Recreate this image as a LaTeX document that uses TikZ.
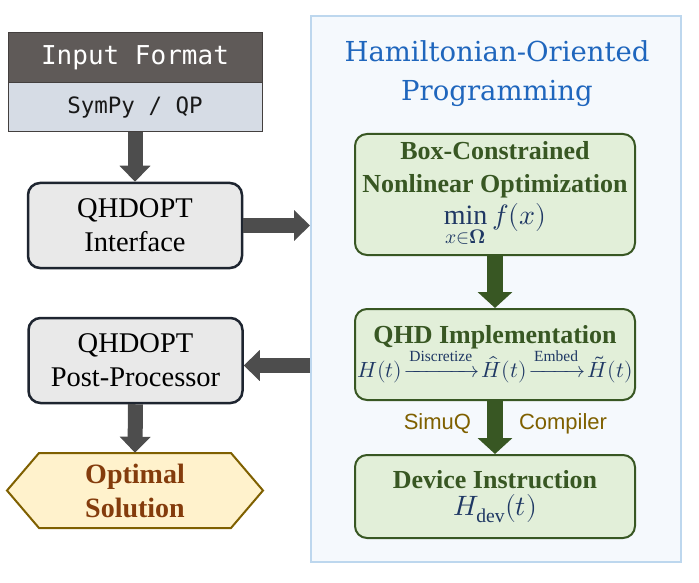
\documentclass[tikz,border=0pt]{standalone}
\usepackage{amsmath}
\usepackage{amssymb}
\usepackage{unicode-math}
\setmainfont{Liberation Serif}
\setsansfont{Liberation Sans}
\setmonofont{DejaVu Sans Mono}
\setmathfont{Latin Modern Math}
\newfontfamily\titlefont{DejaVu Serif}
\usetikzlibrary{arrows.meta, positioning}
\definecolor{panelfill}{HTML}{F5F9FD}
\definecolor{paneldraw}{HTML}{BDD7EE}
\definecolor{titleblue}{HTML}{1F66BD}
\definecolor{boxgray}{HTML}{E9E9E9}
\definecolor{boxline}{HTML}{1E2530}
\definecolor{arrowgray}{HTML}{4D4D4D}
\definecolor{greenfill}{HTML}{E2EFD9}
\definecolor{greenline}{HTML}{385723}
\definecolor{mathblue}{HTML}{1F3864}
\definecolor{optfill}{HTML}{FFF2CC}
\definecolor{optline}{HTML}{7F6000}
\definecolor{opttext}{HTML}{843C0C}
\definecolor{inputdark}{HTML}{5F5A58}
\definecolor{inputlight}{HTML}{D6DCE5}

\begin{document}
\begin{tikzpicture}[x=1pt, y=-1pt,
  graybox/.style={draw=boxline, line width=2.5pt, fill=boxgray, rounded corners=12pt, minimum width=214pt, minimum height=85pt, align=center, inner sep=0pt, font=\fontsize{28.5}{34}\selectfont},
  greenbox/.style={draw=greenline, line width=2pt, fill=greenfill, rounded corners=12pt, minimum width=280pt, align=center, inner sep=0pt, text=greenline, font=\fontsize{26}{33}\selectfont\bfseries},
  grayarrow/.style={draw=arrowgray, line width=15pt, -{Triangle[width=30pt, length=16pt]}},
  greenarrow/.style={draw=greenline, line width=16pt, -{Triangle[width=34pt, length=16pt]}},
  steplabel/.style={inner sep=0pt, text=optline, font=\sffamily\fontsize{22}{22}\selectfont}]
\useasboundingbox (0,0) rectangle (699,583);

% right panel
\node[draw=paneldraw, line width=2pt, fill=panelfill, minimum width=370pt, minimum height=546pt, inner sep=0pt] (panel) at (496,289) {};
\node[text=titleblue, align=center, font=\titlefont\fontsize{27.5}{39}\selectfont] (title) at (497,74) {Hamiltonian-Oriented\\Programming};

% left column
\node[draw=inputdark!70!black, line width=1pt, fill=inputdark, text=white, minimum width=254pt, minimum height=50pt, inner sep=0pt, font=\ttfamily\fontsize{26}{26}\selectfont] (fmt) at (135,58) {Input Format};
\node[draw=inputdark!70!black, line width=1pt, fill=inputlight, text=black!90, minimum width=254pt, minimum height=49pt, inner sep=0pt, font=\ttfamily\fontsize{22.5}{22.5}\selectfont] (sympy) at (135,107.5) {SymPy / QP};
\node[graybox] (iface) at (135,225.5) {QHDOPT\\Interface};
\node[graybox] (post) at (135.5,360.5) {QHDOPT\\Post-Processor};
\draw[draw=optline, line width=2pt, fill=optfill] (7,490.5) -- (39,453) -- (231,453) -- (263,490.5) -- (231,528) -- (39,528) -- cycle;
\node[minimum width=256pt, minimum height=75pt, inner sep=0pt, align=center, text=opttext, font=\fontsize{28}{34}\selectfont\bfseries] (opt) at (135,490.5) {Optimal\\Solution};

% green boxes
\node[greenbox, minimum height=121pt] (boxopt) at (495,194.5) {Box-Constrained\\Nonlinear Optimization\\[-1pt] {\mdseries\fontsize{28}{32}\selectfont\color{mathblue}$\min\limits_{x\in\symbf{\Omega}} f(x)$}};
\node[greenbox, minimum height=91pt] (qhd) at (495,354.5) {QHD Implementation\\[-2pt] {\mdseries\fontsize{22}{24}\selectfont\color{mathblue}\thickmuskip=2mu$H(t)\xrightarrow{\text{\fontsize{15.5}{16}\selectfont Discretize}}\hat{H}(t)\xrightarrow{\text{\fontsize{15.5}{16}\selectfont Embed}}\tilde{H}(t)$}};
\node[greenbox, minimum height=83pt] (dev) at (495,496.5) {Device Instruction\\[-6pt] {\mdseries\fontsize{28}{30}\selectfont\color{mathblue}$H_{\mathrm{dev}}(t)$}};

% arrows
\draw[grayarrow] (sympy.south) -- (iface.north);
\draw[grayarrow] (iface.east) -- (iface.east -| panel.west);
\draw[grayarrow] ([yshift=-5pt]post.east -| panel.west) -- ([yshift=-5pt]post.east);
\draw[grayarrow] (post.south) -- (opt.north);
\draw[greenarrow] (boxopt.south) -- (qhd.north);
\draw[greenarrow] (qhd.south) -- (dev.north)
  node[midway, steplabel, left=16pt, yshift=4pt] (simuq) {SimuQ}
  node[midway, steplabel, right=16pt, yshift=4pt] (compiler) {Compiler};
\end{tikzpicture}
\end{document}
